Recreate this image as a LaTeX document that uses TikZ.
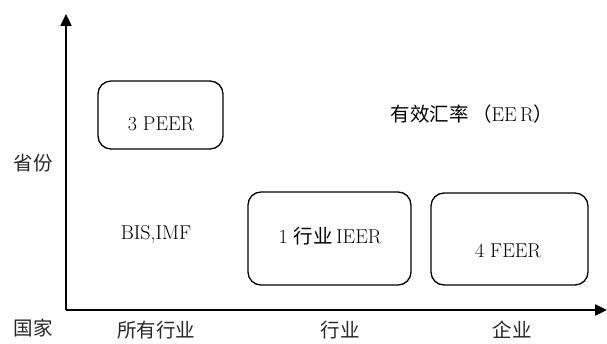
\documentclass[tikz,border=0pt]{standalone}
\usepackage{fontspec}
\newfontfamily\cjk{Noto Sans CJK SC}
\usetikzlibrary{arrows.meta}
\begin{document}
\begin{tikzpicture}[x=1pt,y=-1pt,
  axis/.style={line width=2.4pt,-{Triangle[length=12pt,width=11pt]}},
  rbox/.style={draw,line width=1.3pt,rounded corners=13pt},
  lbl/.style={font=\fontsize{20}{24}\selectfont,text=black},
  clbl/.style={font=\cjk\fontsize{19.5}{24}\selectfont,text=black!85}]
\useasboundingbox (0,0) rectangle (607,344);
\coordinate (o) at (66,310);
\coordinate (ytop) at (66,14);
\coordinate (xend) at (607,310);
\draw[axis] (o) -- (ytop);
\draw[axis] (o) -- (xend);
\node[rbox,minimum width=125pt,minimum height=68pt] (peer) at (160.5,115) {};
\node[lbl] (peert) at (161,124) {3 PEER};
\node[rbox,minimum width=163pt,minimum height=93pt] (ieer) at (329.5,238.5) {};
\node[lbl] (ieert) at (330,236) {1 {\cjk\fontsize{19.5}{24}\selectfont 行业}\,IEER};
\node[rbox,minimum width=157pt,minimum height=92pt] (feer) at (509.5,239) {};
\node[lbl] (feert) at (508,251) {4 FEER};
\node[lbl] (eer) at (472,114) {{\cjk\fontsize{19.5}{24}\selectfont 有效汇率\,（}EE\,R{\cjk\fontsize{19.5}{24}\selectfont ）}};
\node[lbl] (bis) at (156,234) {BIS,IMF};
\node[clbl] (sf) at (33,163) {省份};
\node[clbl] (gj) at (33,328) {国家};
\node[clbl] (sy) at (156,330) {所有行业};
\node[clbl] (hy) at (340,330) {行业};
\node[clbl] (qy) at (512,330) {企业};
\end{tikzpicture}
\end{document}
